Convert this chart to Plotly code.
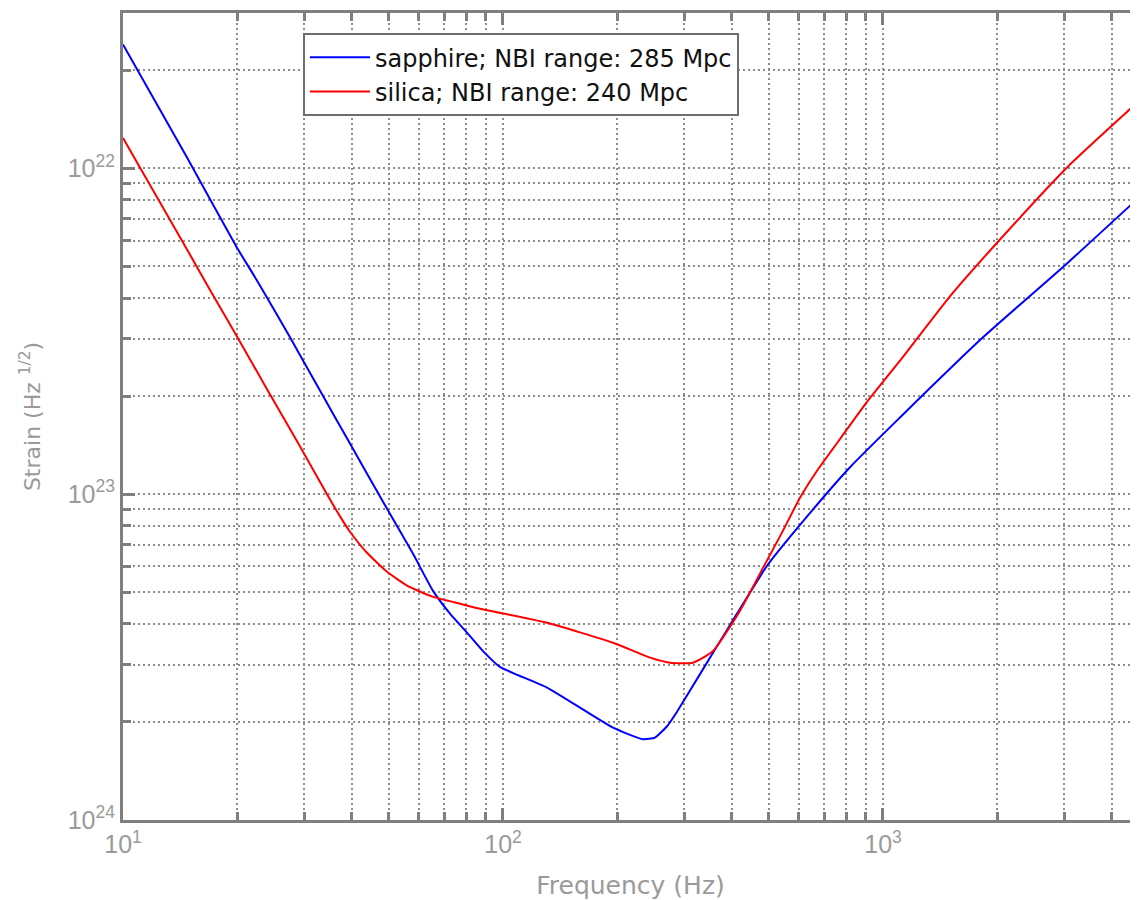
import plotly.graph_objects as go

# Sapphire (blue) curve: frequency (Hz), strain
sapphire_f = [10, 14.74, 19.95, 22.52, 27.51, 32.99, 39.57, 48.33, 57.98, 65.44, 72.53, 80.41,
              88.6, 98.2, 130.6, 194.8, 233.6, 251.2, 270.2, 287.1, 304.9, 357.0, 412.9,
              495.3, 604.8, 818.9, 1108.6, 1833, 3050, 4689]
sapphire_s = [2.40e-22, 1.08e-22, 5.71e-23, 4.53e-23, 3.03e-23, 2.08e-23, 1.43e-23, 9.48e-24,
              6.56e-24, 5.05e-24, 4.30e-24, 3.76e-24, 3.30e-24, 2.95e-24, 2.55e-24, 1.92e-24,
              1.77e-24, 1.79e-24, 1.94e-24, 2.15e-24, 2.41e-24, 3.26e-24, 4.30e-24, 6.03e-24,
              8.05e-24, 1.21e-23, 1.72e-23, 3.03e-23, 5.11e-23, 8.09e-23]

# Silica (red) curve: frequency (Hz), strain
silica_f = [10, 12.29, 14.74, 17.15, 19.95, 23.93, 29.24, 34.42, 37.25, 39.57, 43.86, 49.53,
            55.91, 65.44, 77.07, 87.0, 130.6, 194.8, 243.8, 275.2, 316.2, 357.0, 420.5, 483.3,
            545.6, 604.8, 670.6, 738.8, 907.8, 1108.6, 1500.6, 2032, 3050, 4689]
silica_s = [1.24e-22, 8.15e-23, 5.64e-23, 4.13e-23, 3.05e-23, 2.10e-23, 1.40e-23, 1.00e-23,
            8.55e-24, 7.67e-24, 6.61e-24, 5.78e-24, 5.24e-24, 4.84e-24, 4.61e-24, 4.45e-24,
            4.03e-24, 3.50e-24, 3.15e-24, 3.04e-24, 3.04e-24, 3.30e-24, 4.39e-24, 5.94e-24,
            7.73e-24, 9.75e-24, 1.18e-23, 1.38e-23, 1.92e-23, 2.57e-23, 4.05e-23, 6.05e-23,
            1.007e-22, 1.60e-22]

series_names = ["sapphire; NBI range: 285 Mpc", "silica; NBI range: 240 Mpc"]

x_major = [10, 100, 1000]
x_major_text = ["10<sup>1</sup>", "10<sup>2</sup>", "10<sup>3</sup>"]
x_minor = [m * d for d in (10, 100, 1000) for m in range(2, 10)]

y_major = [1e-24, 1e-23, 1e-22]
y_major_text = ["10<sup>24</sup>", "10<sup>23</sup>", "10<sup>22</sup>"]
y_minor = [m * d for d in (1e-24, 1e-23, 1e-22) for m in range(2, 10)]

FONT = "Liberation Sans, Arial, sans-serif"
WIDE = "DejaVu Sans, Liberation Sans, sans-serif"
AXIS = "#7f7f7f"
GRID = "#8c8c8c"
LABEL = "#9a9a9a"
DASH = "2px,3px"

fig = go.Figure()
fig.add_trace(go.Scatter(x=sapphire_f, y=sapphire_s, mode="lines", name=series_names[0],
                         line=dict(color="#0000ff", width=2, shape="spline", smoothing=0.5)))
fig.add_trace(go.Scatter(x=silica_f, y=silica_s, mode="lines", name=series_names[1],
                         line=dict(color="#ff0000", width=2, shape="spline", smoothing=0.5)))

fig.update_layout(
    width=1130, height=892,
    margin=dict(l=115, r=0, t=5, b=80, autoexpand=False),
    paper_bgcolor="white", plot_bgcolor="white",
    font=dict(family=FONT, color=LABEL),
    showlegend=True,
    legend=dict(x=0.1773, y=0.975, xanchor="left", yanchor="top",
                bgcolor="white", bordercolor="#6e6e6e", borderwidth=2,
                font=dict(family=WIDE, size=24, color="#111111"),
                tracegroupgap=0, itemwidth=60),
    xaxis=dict(
        type="log", range=[1, 3.6711], automargin=False,
        tickmode="array", tickvals=x_major, ticktext=x_major_text,
        tickfont=dict(size=25, color=LABEL),
        ticks="inside", ticklen=12, tickwidth=3, tickcolor=AXIS,
        showline=True, linecolor=AXIS, linewidth=3, mirror="ticks",
        showgrid=True, gridcolor=GRID, griddash=DASH, gridwidth=1.5,
        minor=dict(tickmode="array", tickvals=x_minor, ticks="inside", ticklen=8,
                   tickwidth=3, tickcolor=AXIS, showgrid=True, gridcolor=GRID,
                   griddash=DASH, gridwidth=1.5),
        zeroline=False,
        title=dict(text="Frequency (Hz)", font=dict(family=WIDE, size=25, color=LABEL), standoff=20),
    ),
    yaxis=dict(
        type="log", range=[-24, -21.523], automargin=False,
        tickmode="array", tickvals=y_major, ticktext=y_major_text,
        tickfont=dict(size=25, color=LABEL),
        ticks="inside", ticklen=12, tickwidth=3, tickcolor=AXIS,
        showline=True, linecolor=AXIS, linewidth=3,
        showgrid=True, gridcolor=GRID, griddash=DASH, gridwidth=1.5,
        minor=dict(tickmode="array", tickvals=y_minor, ticks="inside", ticklen=8,
                   tickwidth=3, tickcolor=AXIS, showgrid=True, gridcolor=GRID,
                   griddash=DASH, gridwidth=1.5),
        zeroline=False,
        title=dict(text="Strain (Hz <sup>1/2</sup>)", font=dict(family=WIDE, size=22, color=LABEL),
                   standoff=22),
    ),
)

fig.write_html("out.html")
